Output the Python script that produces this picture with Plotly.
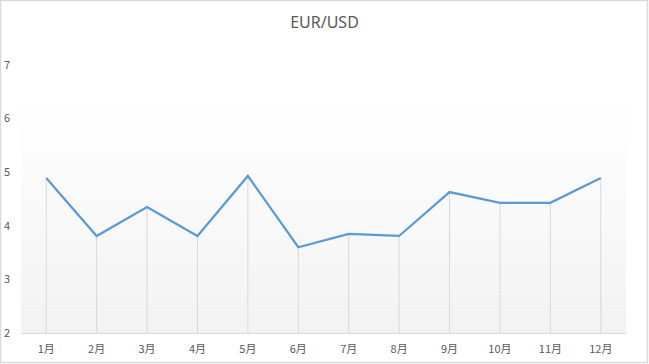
import plotly.graph_objects as go

months = ["1月", "2月", "3月", "4月", "5月", "6月", "7月", "8月", "9月", "10月", "11月", "12月"]
eur_usd = [4.89, 3.81, 4.35, 3.81, 4.93, 3.60, 3.85, 3.81, 4.63, 4.43, 4.43, 4.89]
y_min, y_max = 2, 7
y_ticks = [2, 3, 4, 5, 6, 7]

W, H = 649, 364
L, R, T, B = 21, 23, 65, 31

fig = go.Figure()
fig.add_trace(go.Scatter(
    x=months, y=eur_usd, mode="lines",
    line=dict(color="#5b9bd5", width=2.25),
    error_y=dict(type="data", symmetric=False,
                 array=[0] * len(eur_usd),
                 arrayminus=[v - y_min for v in eur_usd],
                 color="#d9d9d9", thickness=1, width=0),
    hoverinfo="x+y", showlegend=False,
))

# gradient background of plot area (styling only)
shapes = []
grad_top = (333 - 97) / (H - T - B)
n = 60
for i in range(n):
    y0 = grad_top * i / n
    y1 = grad_top * (i + 1) / n
    t = (i + 0.5) / n
    c = round(242 + (255 - 242) * t)
    shapes.append(dict(type="rect", xref="paper", yref="paper", x0=0, x1=1,
                       y0=y0, y1=y1 + 0.001, fillcolor=f"rgb({c},{c},{c})",
                       line=dict(width=0), layer="below"))
# outer border
shapes.append(dict(type="rect", xref="paper", yref="paper",
                   x0=-L / (W - L - R) + 0.5 / (W - L - R),
                   x1=1 + (R - 1.5) / (W - L - R),
                   y0=-(B - 1.5) / (H - T - B),
                   y1=1 + (T - 0.5) / (H - T - B),
                   line=dict(color="#d9d9d9", width=1.5), fillcolor="rgba(0,0,0,0)",
                   layer="below"))

fig.update_layout(
    width=W, height=H,
    margin=dict(l=L, r=R, t=T, b=B, autoexpand=False),
    paper_bgcolor="white", plot_bgcolor="rgba(0,0,0,0)",
    title=dict(text="EUR/USD", x=0.5, xanchor="center", y=1 - 22 / H, yanchor="middle",
               font=dict(family="Noto Sans, sans-serif", size=16, color="#595959")),
    font=dict(family="Noto Sans CJK SC, Noto Sans, sans-serif", size=11, color="#595959"),
    shapes=shapes,
    xaxis=dict(showgrid=False, showline=True, linecolor="#d9d9d9", linewidth=1,
               range=[-0.5, len(months) - 0.5],
               ticks="", tickfont=dict(size=11, color="#595959"), zeroline=False,
               fixedrange=True, ticklabelstandoff=6, automargin=False),
    yaxis=dict(range=[y_min, y_max], tickvals=y_ticks, showgrid=False, showline=False,
               zeroline=False, ticks="", ticklabelstandoff=10, automargin=False,
               tickfont=dict(size=11, color="#595959"), fixedrange=True),
)

fig.write_html("out.html")
